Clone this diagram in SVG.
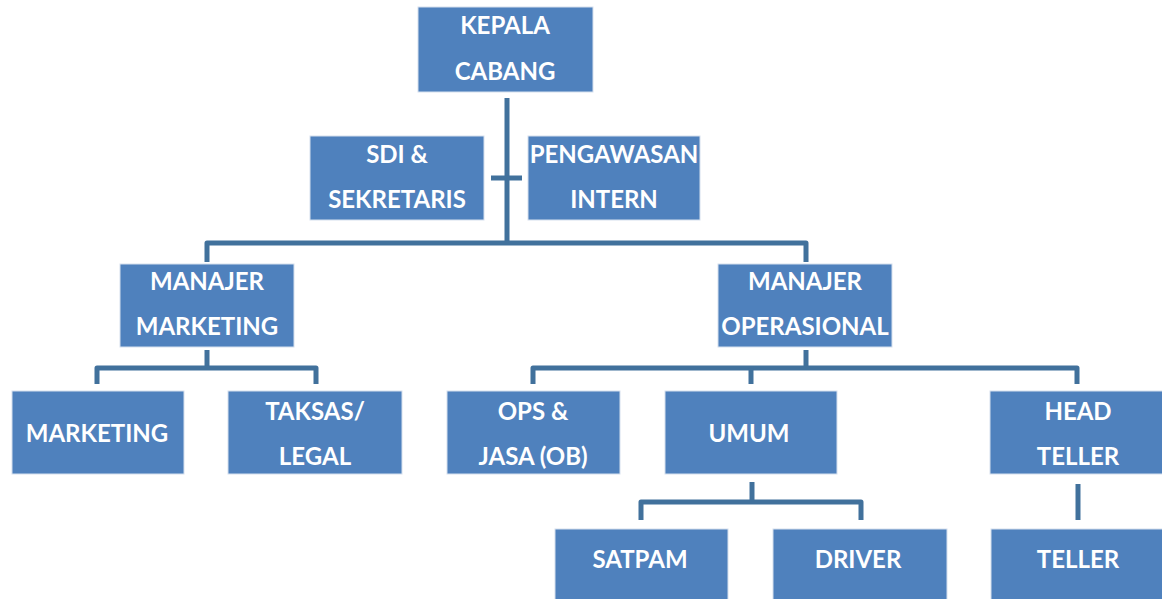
<svg xmlns="http://www.w3.org/2000/svg" width="1162" height="599" viewBox="0 0 1162 599">
<style>
.box{fill:#4F81BD;stroke:#d6e0ee;stroke-width:1}
.t{font-family:Lato,"Liberation Sans",Arial,sans-serif;font-weight:bold;font-size:24px;fill:#ffffff;text-anchor:middle}
.c{fill:none;stroke:#41719C;stroke-width:5;stroke-linejoin:round}
</style>
<defs>
<clipPath id="clipPeng"><rect x="528" y="136" width="172" height="84"/></clipPath>
<clipPath id="clipOps"><rect x="718" y="264" width="174" height="83"/></clipPath>
</defs>
<rect width="1162" height="599" fill="#ffffff"/>
<g id="connectors">
<path class="c" d="M507 98 V243"/>
<path class="c" d="M491 178 H522"/>
<path class="c" d="M207 262 V243 H806 V262"/>
<path class="c" d="M207 350 V368"/>
<path class="c" d="M97 384 V368 H316 V384"/>
<path class="c" d="M806 350 V368"/>
<path class="c" d="M533 384 V368 H1077 V384"/>
<path class="c" d="M751 368 V384"/>
<path class="c" d="M752 482 V502"/>
<path class="c" d="M641 520 V502 H861 V520"/>
<path class="c" d="M1078 484 V520"/>
</g>
<g id="kepala">
<rect class="box" x="418" y="7" width="175" height="85"/>
<text class="t" x="505" y="34">KEPALA</text>
<text class="t" x="505" y="80">CABANG</text>
</g>
<g id="sdi">
<rect class="box" x="310" y="136" width="174" height="84"/>
<text class="t" x="397" y="163">SDI &amp;</text>
<text class="t" x="397" y="208">SEKRETARIS</text>
</g>
<g id="pengawasan">
<rect class="box" x="528" y="136" width="172" height="84"/>
<g clip-path="url(#clipPeng)">
<text class="t" x="614" y="163">PENGAWASAN</text>
<text class="t" x="614" y="208">INTERN</text>
</g>
</g>
<g id="manajer-marketing">
<rect class="box" x="120" y="264" width="174" height="83"/>
<text class="t" x="207" y="290">MANAJER</text>
<text class="t" x="207" y="335">MARKETING</text>
</g>
<g id="manajer-operasional">
<rect class="box" x="718" y="264" width="174" height="83"/>
<g clip-path="url(#clipOps)">
<text class="t" x="805" y="290">MANAJER</text>
<text class="t" x="805" y="335">OPERASIONAL</text>
</g>
</g>
<g id="marketing">
<rect class="box" x="12" y="391" width="172" height="83"/>
<text class="t" x="97" y="442">MARKETING</text>
</g>
<g id="taksas">
<rect class="box" x="228" y="391" width="174" height="83"/>
<text class="t" x="315" y="420">TAKSAS/</text>
<text class="t" x="315" y="465">LEGAL</text>
</g>
<g id="ops-jasa">
<rect class="box" x="447" y="391" width="173" height="83"/>
<text class="t" x="533" y="420">OPS &amp;</text>
<text class="t" x="533" y="465">JASA (OB)</text>
</g>
<g id="umum">
<rect class="box" x="665" y="391" width="172" height="83"/>
<text class="t" x="749" y="442">UMUM</text>
</g>
<g id="head-teller">
<rect class="box" x="990" y="391" width="175" height="83"/>
<text class="t" x="1078" y="420">HEAD</text>
<text class="t" x="1078" y="465">TELLER</text>
</g>
<g id="satpam">
<rect class="box" x="555" y="529" width="173" height="75"/>
<text class="t" x="640" y="568">SATPAM</text>
</g>
<g id="driver">
<rect class="box" x="773" y="529" width="174" height="75"/>
<text class="t" x="858" y="568">DRIVER</text>
</g>
<g id="teller">
<rect class="box" x="991" y="529" width="175" height="75"/>
<text class="t" x="1078" y="568">TELLER</text>
</g>
</svg>
